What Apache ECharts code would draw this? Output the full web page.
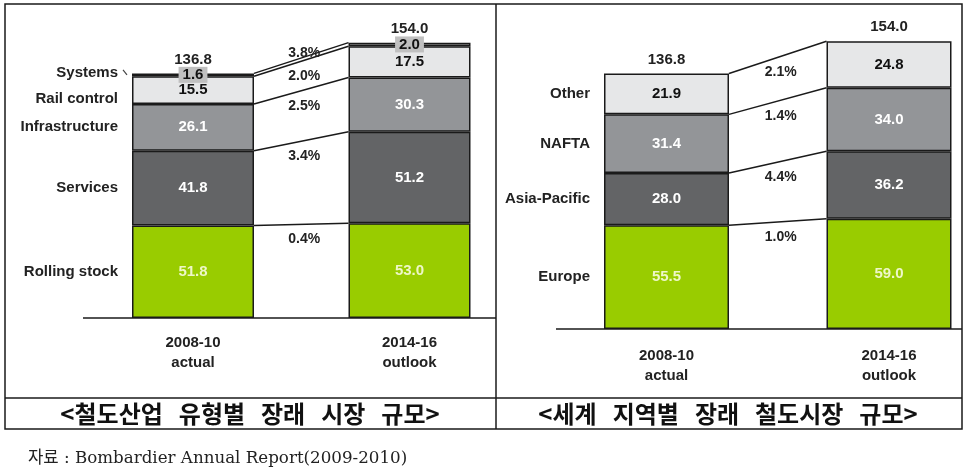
<!DOCTYPE html>
<html>
<head>
<meta charset="utf-8">
<script src="https://cdn.jsdelivr.net/npm/echarts@6/dist/echarts.min.js"></script>
<style>
  html, body { margin: 0; padding: 0; background: #fff; }
  #main { width: 969px; height: 475px; }
</style>
</head>
<body>
<div id="main"></div>
<script>
// 공통 카테고리
var periods = ['2008-10\nactual', '2014-16\noutlook'];

// 철도산업 유형별 (bottom -> top)
var typeNames = ['Rolling stock', 'Services', 'Infrastructure', 'Rail control', 'Systems'];
var typeActual = [51.8, 41.8, 26.1, 15.5, 1.6];
var typeOutlook = [53.0, 51.2, 30.3, 17.5, 2.0];
var typeGrowth = ['0.4%', '3.4%', '2.5%', '2.0%', '3.8%'];

// 세계 지역별 (bottom -> top)
var regionNames = ['Europe', 'Asia-Pacific', 'NAFTA', 'Other'];
var regionActual = [55.5, 28.0, 31.4, 21.9];
var regionOutlook = [59.0, 36.2, 34.0, 24.8];
var regionGrowth = ['1.0%', '4.4%', '1.4%', '2.1%'];

var captions = ['<철도산업 유형별 장래 시장 규모>', '<세계 지역별 장래 철도시장 규모>'];
var sourceText = '자료 : Bombardier Annual Report(2009-2010)';

var typeColors = ['#99cc00', '#636466', '#939598', '#e6e7e8', '#a8a8a8'];
var regionColors = ['#99cc00', '#636466', '#939598', '#e6e7e8'];
var textColors = ['#eef7c8', '#ffffff', '#ffffff', '#111111', '#111111'];

var FONT = '"Liberation Sans", Arial, sans-serif';
var INK = '#1a1a1a';

function barSeries(idx, names, a, b, colors, barW) {
  return names.map(function (name, i) {
    var thin = a[i] < 5;
    return {
      name: name,
      type: 'bar',
      stack: 'total' + idx,
      xAxisIndex: idx,
      yAxisIndex: idx,
      barWidth: barW,
      data: [a[i], b[i]],
      itemStyle: { color: colors[i], borderColor: INK, borderWidth: 1.5 },
      label: {
        show: true,
        position: 'inside',
        formatter: function (p) { return p.value.toFixed(1); },
        fontFamily: FONT,
        fontWeight: 'bold',
        fontSize: 15,
        color: textColors[i],
        backgroundColor: thin ? '#c0c0c0' : 'transparent',
        padding: thin ? [1, 4, 0, 4] : 0
      },
      silent: true
    };
  });
}

// 연결선, 성장률, 항목명, 합계
function connectorSeries(idx, names, a, b, growth, barW) {
  var half = barW / 2;
  return {
    type: 'custom',
    xAxisIndex: idx,
    yAxisIndex: idx,
    silent: true,
    z: 5,
    data: names.map(function (n, i) { return [0, i]; }),
    encode: { x: 0, y: -1 },
    renderItem: function (params, api) {
      var i = params.dataIndex;
      var n = names.length;
      var cumA = [0], cumB = [0];
      for (var k = 0; k < n; k++) {
        cumA.push(cumA[k] + a[k]);
        cumB.push(cumB[k] + b[k]);
      }
      var p1 = api.coord([0, cumA[i + 1]]);
      var p2 = api.coord([1, cumB[i + 1]]);
      var x1 = p1[0] + half, x2 = p2[0] - half;
      var midY = (p1[1] + p2[1]) / 2;
      var thin = a[i] < 5;

      // 항목명 위치 (위에서부터 겹치지 않게)
      var ys = [];
      var prev = null;
      for (var k2 = n - 1; k2 >= 0; k2--) {
        var c = (api.coord([0, cumA[k2]])[1] + api.coord([0, cumA[k2 + 1]])[1]) / 2;
        var y = a[k2] < 5 ? c - 2 : c;
        if (prev !== null) y = Math.max(y, prev + 26);
        ys[k2] = y;
        prev = y;
      }
      var nameX = p1[0] - half - 14;

      var children = [
        { type: 'line', shape: { x1: x1, y1: p1[1], x2: x2, y2: p2[1] },
          style: { stroke: INK, lineWidth: 1.5 } },
        { type: 'text', x: (x1 + x2) / 2 + 3, y: thin ? midY - 5 : midY + 15,
          style: { text: growth[i], align: 'center', verticalAlign: 'middle',
                   font: 'bold 14px ' + FONT, fill: '#222' } },
        { type: 'text', x: nameX, y: ys[i],
          style: { text: names[i], align: 'right', verticalAlign: 'middle',
                   font: 'bold 15px ' + FONT, fill: '#222' } }
      ];
      if (thin) {
        children.push({ type: 'line',
          shape: { x1: nameX + 5, y1: ys[i] - 3, x2: nameX + 9, y2: ys[i] + 2 },
          style: { stroke: '#444', lineWidth: 1.2 } });
      }
      if (i === n - 1) {
        children.push({ type: 'text', x: p1[0], y: p1[1] - 14,
          style: { text: cumA[n].toFixed(1), align: 'center', verticalAlign: 'middle',
                   font: 'bold 15px ' + FONT, fill: '#222' } });
        children.push({ type: 'text', x: p2[0], y: p2[1] - 14,
          style: { text: cumB[n].toFixed(1), align: 'center', verticalAlign: 'middle',
                   font: 'bold 15px ' + FONT, fill: '#222' } });
      }
      return { type: 'group', children: children };
    }
  };
}

function catAxis(idx, margin) {
  return {
    type: 'category',
    gridIndex: idx,
    data: periods,
    axisLine: { show: false },
    axisTick: { show: false },
    axisLabel: { fontFamily: FONT, fontWeight: 'bold', fontSize: 15, color: '#222',
                 lineHeight: 20, margin: margin }
  };
}

function valAxis(idx) {
  return { type: 'value', gridIndex: idx, min: 0, max: 170, show: false, splitLine: { show: false } };
}

// 제목의 넓은 띄어쓰기
function wide(s) { return s.replace(/ /g, '\u2002\u2006'); }

var myChart = echarts.init(document.getElementById('main'));

var option = {
  animation: false,
  backgroundColor: '#fff',
  grid: [
    { left: 84.75, top: 14.04, width: 433, height: 303.96, outerBoundsMode: 'none' },
    { left: 555.25, top: 11.44, width: 445, height: 317.56, outerBoundsMode: 'none' }
  ],
  xAxis: [catAxis(0, 15), catAxis(1, 17)],
  yAxis: [valAxis(0), valAxis(1)],
  series: []
    .concat(barSeries(0, typeNames, typeActual, typeOutlook, typeColors, 122))
    .concat([connectorSeries(0, typeNames, typeActual, typeOutlook, typeGrowth, 122)])
    .concat(barSeries(1, regionNames, regionActual, regionOutlook, regionColors, 125))
    .concat([connectorSeries(1, regionNames, regionActual, regionOutlook, regionGrowth, 125)]),
  graphic: [
    // 표 테두리
    { type: 'rect', shape: { x: 5, y: 4, width: 957, height: 425 },
      style: { fill: 'none', stroke: INK, lineWidth: 1.5 }, z: 10 },
    { type: 'line', shape: { x1: 496, y1: 4, x2: 496, y2: 429 },
      style: { stroke: INK, lineWidth: 1.5 }, z: 10 },
    { type: 'line', shape: { x1: 5, y1: 398, x2: 962, y2: 398 },
      style: { stroke: INK, lineWidth: 1.5 }, z: 10 },
    // 기준선
    { type: 'line', shape: { x1: 83, y1: 318, x2: 496, y2: 318 },
      style: { stroke: INK, lineWidth: 1.5 }, z: 10 },
    { type: 'line', shape: { x1: 556, y1: 329, x2: 962, y2: 329 },
      style: { stroke: INK, lineWidth: 1.5 }, z: 10 },
    // 제목
    { type: 'text', x: 250, y: 414,
      style: { text: wide(captions[0]), align: 'center', verticalAlign: 'middle',
               font: 'bold 24px "Noto Sans CJK KR", sans-serif', fill: '#111' } },
    { type: 'text', x: 728, y: 414,
      style: { text: wide(captions[1]), align: 'center', verticalAlign: 'middle',
               font: 'bold 24px "Noto Sans CJK KR", sans-serif', fill: '#111' } },
    { type: 'text', x: 28, y: 459,
      style: { text: sourceText, align: 'left', verticalAlign: 'middle',
               font: '16.7px "DejaVu Serif", "Noto Sans CJK KR", serif', fill: '#222' } }
  ]
};

myChart.setOption(option);
</script>
</body>
</html>
